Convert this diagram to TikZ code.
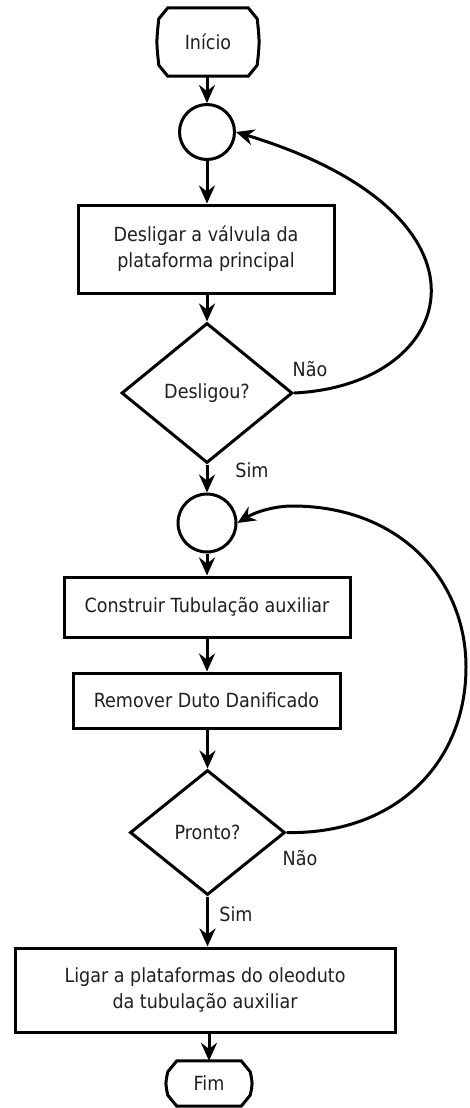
\documentclass[tikz,border=0pt]{standalone}
\usepackage{fontspec}
\setmainfont{DejaVu Sans}[FakeStretch=0.9]
\usetikzlibrary{shapes.geometric,arrows.meta}
\newcommand\termdraw[1]{%
  \draw[lw] ([xshift=10pt]#1.north west) -- ([xshift=-10pt]#1.north east)
    -- ([xshift=-1pt,yshift=-11pt]#1.north east) .. controls ([xshift=1.5pt]#1.east) .. ([xshift=-1pt,yshift=11pt]#1.south east)
    -- ([xshift=-10pt]#1.south east) -- ([xshift=10pt]#1.south west)
    -- ([xshift=1pt,yshift=11pt]#1.south west) .. controls ([xshift=-1.5pt]#1.west) .. ([xshift=1pt,yshift=-11pt]#1.north west)
    -- cycle;}
\begin{document}
\begin{tikzpicture}[x=1pt,y=-1pt,
  every node/.style={font=\fontsize{19.5}{26}\selectfont, text=black!88},
  lw/.style={line width=3pt, draw=black, line join=miter},
  arr/.style={lw, -{Stealth[length=18pt,width=16pt,inset=6pt]}},
  proc/.style={lw, rectangle, inner sep=0pt, align=center},
  conn/.style={lw, circle, inner sep=0pt},
  dec/.style={lw, diamond, inner sep=0pt},
  term/.style={rectangle, inner sep=0pt},
  lbl/.style={inner sep=0pt}]
\fill[white] (0,0) rectangle (470,1108);
\useasboundingbox (0,0) rectangle (470,1108);

\node[term, minimum width=100pt, minimum height=68pt] (start) at (208,42) {Início};
\termdraw{start}
\node[conn, minimum size=55pt] (c1) at (207,132) {};
\node[proc, minimum width=256pt, minimum height=88pt] (b1) at (206,249) {Desligar a válvula da\\plataforma principal};
\node[dec, minimum width=171pt, minimum height=140pt] (d1) at (207,393) {Desligou?};
\node[conn, minimum size=58pt] (c2) at (207,523) {};
\node[proc, minimum width=286pt, minimum height=60pt] (b2) at (207,607) {Construir Tubulação auxiliar};
\node[proc, minimum width=267pt, minimum height=55pt] (b3) at (206.5,700.5) {Remover Duto Danificado};
\node[dec, minimum width=155pt, minimum height=125pt] (d2) at (207.5,832.5) {Pronto?};
\node[proc, minimum width=380pt, minimum height=84pt] (b4) at (205,990) {Ligar a plataformas do oleoduto\\da tubulação auxiliar};
\node[term, minimum width=84pt, minimum height=45pt] (fim) at (209,1083.5) {Fim};
\termdraw{fim}

\node[lbl] (nao1) at (310,369) {Não};
\node[lbl] (sim1) at (252,470) {Sim};
\node[lbl] (nao2) at (300,858) {Não};
\node[lbl] (sim2) at (236,914) {Sim};

\draw[arr] (start.south -| c1) -- (c1.north);
\draw[arr] (c1.south) -- (c1.south |- b1.north);
\draw[arr] (b1.south -| d1) -- (d1.north);
\draw[arr] (d1.south) -- (c2.north);
\draw[arr] (c2.south) -- (b2.north);
\draw[arr] (b2.south) -- (b2.south |- b3.north);
\draw[arr] (b3.south -| d2) -- (d2.north);
\draw[arr] (d2.south) -- (d2.south |- b4.north);
\draw[arr] (b4.south -| fim) -- (fim.north);

\draw[arr] (d1.east) .. controls (460,385) and (510,215) .. (c1.east);
\draw[arr] (d2.east) -- (297,832.5) .. controls (400,830) and (466,760) .. (466,667)
  .. controls (466,580) and (400,505) .. (290,506)
  .. controls (268,507) and (252,514) .. (c2.east);
\end{tikzpicture}
\end{document}
